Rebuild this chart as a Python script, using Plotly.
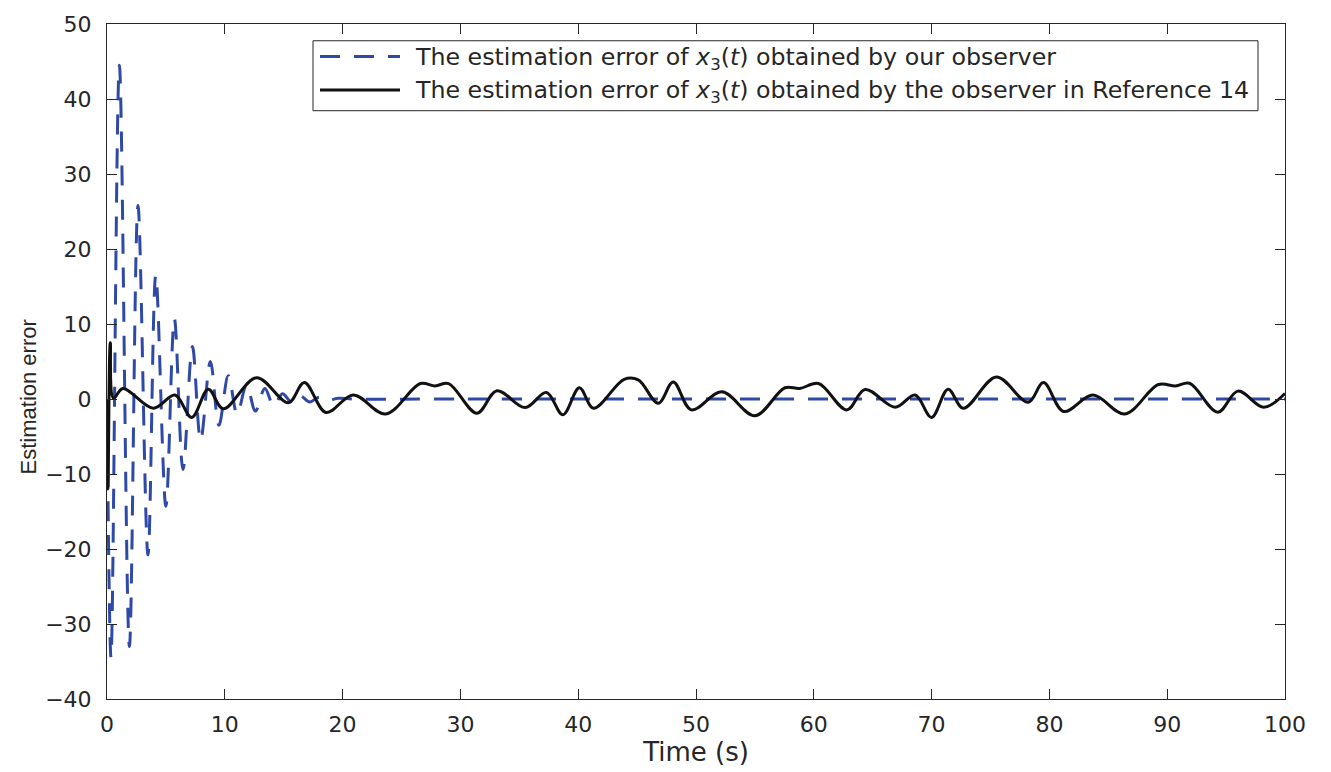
import plotly.graph_objects as go

# ---- data ----
blue_t = [0, 0.34, 1.05, 1.9, 2.63, 3.48, 4.14, 5.0, 5.72, 6.45, 7.25, 7.95, 8.78, 9.5,
          10.3, 11.05, 11.85, 12.6, 13.4, 14.15, 14.9, 15.7, 16.4, 17.2, 18.0, 18.8, 19.6,
          21, 30, 40, 50, 60, 70, 80, 90, 100]
blue_v = [0, -34.5, 44.5, -33, 25.8, -20.8, 16.5, -14.3, 10.7, -9.4, 7.0, -5.5, 5.0, -3.5,
          3.1, -2.0, 1.9, -1.6, 1.4, -0.9, 0.7, -0.5, 0.4, -0.4, 0.25, -0.2, 0.1,
          0, 0, 0, 0, 0, 0, 0, 0, 0]

black_t = [0, 0.08, 0.28, 0.55, 1.35, 3.93, 5.77, 7.19, 8.6, 9.87, 12.7, 15.4, 16.75, 18.6,
           20.9, 23.65, 26.6, 27.85, 29.0, 31.4, 33.1, 35.5, 37.3, 38.7, 40.1, 41.3, 43.9,
           45.1, 46.8, 48.07, 49.6, 52.2, 55.0, 57.55, 58.8, 60.4, 62.8, 64.35, 66.9, 68.6,
           70.0, 71.4, 72.7, 75.5, 78.2, 79.5, 81.2, 83.7, 86.4, 89.25, 90.7, 91.9, 94.3,
           96.0, 98.2, 100]
black_v = [0, -12, 7.5, 0.1, 1.4, -1.23, 0.53, -2.45, 1.3, -1.3, 2.85, -0.5, 2.2, -1.8,
           0.55, -2.0, 2.06, 1.75, 2.06, -1.9, 1.1, -1.14, 0.88, -2.1, 1.5, -1.23, 2.62,
           2.55, -0.57, 2.28, -1.45, 0.96, -2.23, 1.5, 1.4, 2.06, -1.45, 1.27, -1.1, 0.53,
           -2.45, 1.3, -1.23, 2.93, -0.44, 2.19, -1.66, 0.53, -2.0, 1.93, 1.75, 2.1, -1.75,
           1.05, -1.1, 0.74]

x_ticks = [0, 10, 20, 30, 40, 50, 60, 70, 80, 90, 100]
y_ticks = [-40, -30, -20, -10, 0, 10, 20, 30, 40, 50]

legend_labels = [
    "The estimation error of <i>x</i><sub>3</sub>(<i>t</i>) obtained by our observer",
    "The estimation error of <i>x</i><sub>3</sub>(<i>t</i>) obtained by the observer in Reference 14",
]

BLUE = "#2e49a6"
BLACK = "#111111"
AX = "#262626"

fig = go.Figure()
fig.add_trace(go.Scatter(x=blue_t, y=blue_v, mode="lines",
                         line=dict(color=BLUE, width=3, dash="20px,14px", shape="spline", smoothing=1.0),
                         showlegend=False))
fig.add_trace(go.Scatter(x=black_t, y=black_v, mode="lines",
                         line=dict(color=BLACK, width=3, shape="spline", smoothing=1.0),
                         showlegend=False))

# manual legend (paper coordinates of the plot area)
L, R, T, B = 107, 1285, 15, 700
def px(xp):
    return (xp - L) / (R - L)
def py(yp):
    return (B - yp) / (B - T)

fig.add_shape(type="rect", xref="paper", yref="paper",
              x0=px(313), x1=px(1258), y0=py(103), y1=py(32),
              line=dict(color=AX, width=1), fillcolor="white", layer="above")
for yrow, col, dash in [(48, BLUE, "20px,14px"), (82, BLACK, "solid")]:
    fig.add_shape(type="line", xref="paper", yref="paper",
                  x0=px(320), x1=px(400), y0=py(yrow), y1=py(yrow),
                  line=dict(color=col, width=3, dash=dash), layer="above")
for yrow, txt in zip([50, 84], legend_labels):
    fig.add_annotation(xref="paper", yref="paper", x=px(413), y=py(yrow),
                       xanchor="left", yanchor="middle", text=txt, showarrow=False,
                       font=dict(family="DejaVu Sans", size=23.7, color=AX))

# y-axis title placed as in the reference
fig.add_annotation(xref="paper", yref="paper", x=px(28), y=py(394), textangle=-90,
                   xanchor="center", yanchor="middle", text="Estimation error", showarrow=False,
                   font=dict(family="Liberation Sans", size=22, color=AX))

fig.update_xaxes(range=[0, 100], tickvals=x_ticks, ticks="inside", ticklen=10, tickcolor=AX,
                 showline=True, linecolor=AX, linewidth=1, mirror="allticks", showgrid=False,
                 zeroline=False, tickfont=dict(family="DejaVu Sans", size=22, color=AX),
                 ticklabelstandoff=6,
                 title=dict(text="Time (s)", font=dict(family="DejaVu Sans", size=26, color=AX),
                            standoff=4))
fig.update_yaxes(range=[-40, 50], tickvals=y_ticks, ticks="inside", ticklen=10, tickcolor=AX,
                 showline=True, linecolor=AX, linewidth=1, mirror="allticks", showgrid=False,
                 zeroline=False, tickfont=dict(family="DejaVu Sans", size=22, color=AX),
                 ticklabelstandoff=10)
fig.update_layout(width=1331, height=772, margin=dict(l=107, r=46, t=15, b=72),
                  plot_bgcolor="white", paper_bgcolor="white")

fig.write_html("out.html")
